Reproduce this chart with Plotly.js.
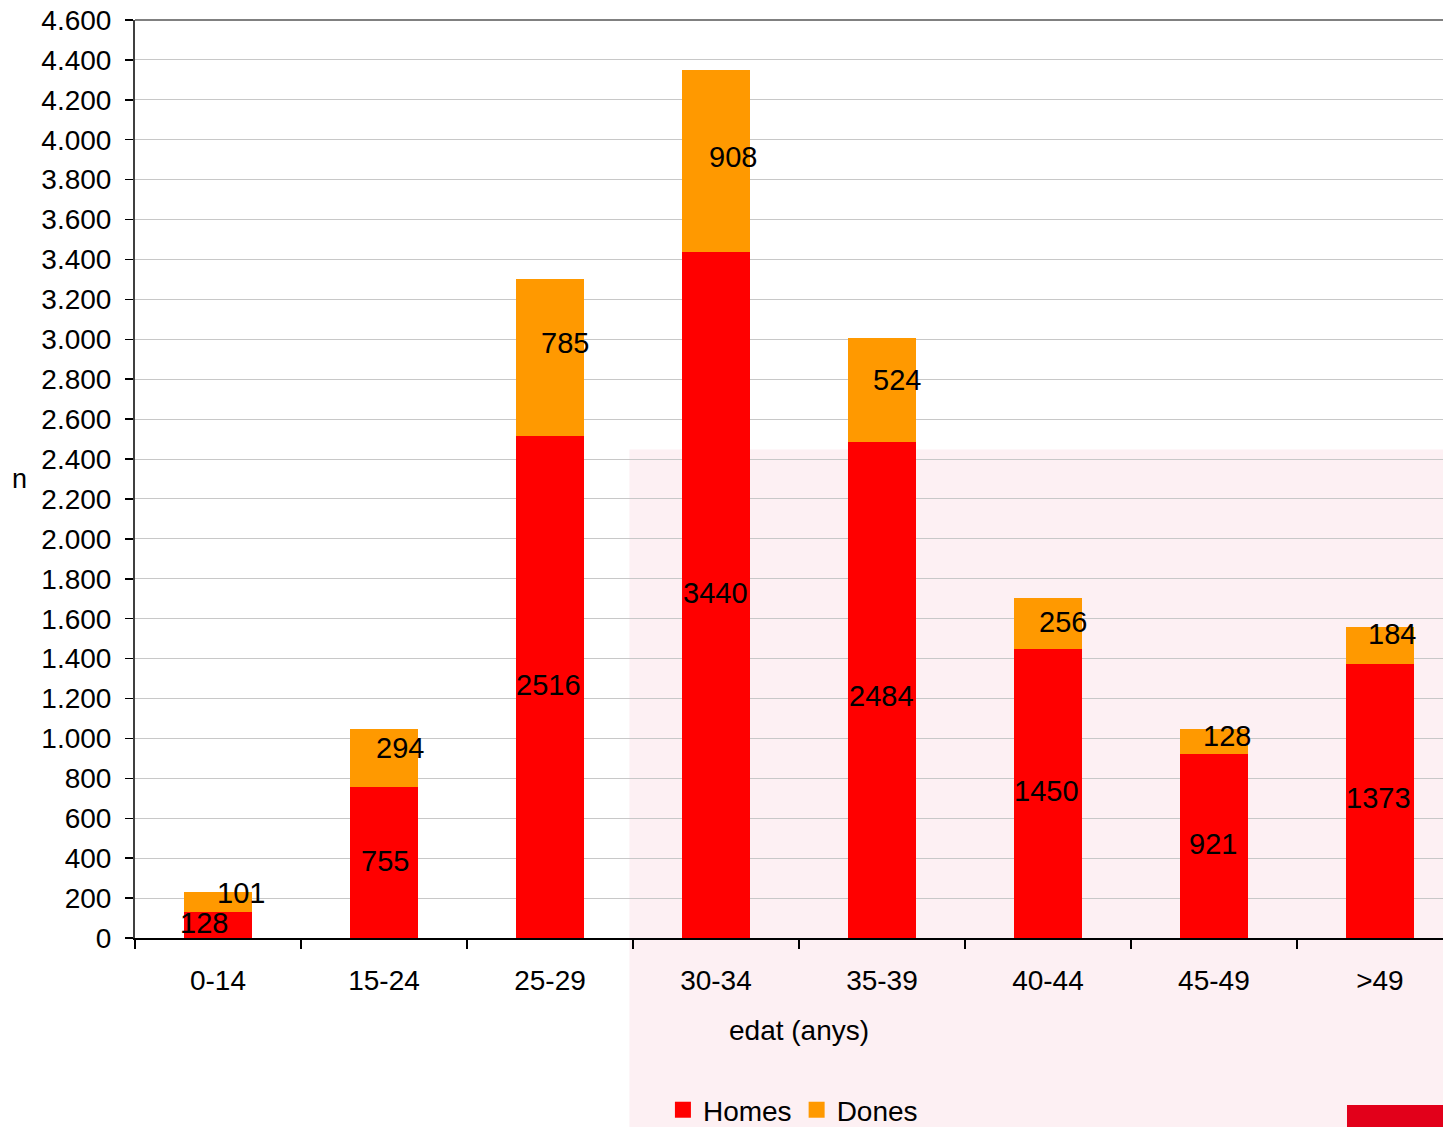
<!DOCTYPE html>
<html>
<head>
<meta charset="utf-8">
<script src="https://cdn.plot.ly/plotly-3.0.1.min.js"></script>
<style>
html,body{margin:0;padding:0;background:#fff;overflow:hidden;}
#chart{width:1443px;height:1127px;}
</style>
</head>
<body>
<div id="chart"></div>
<script>
const categories = ['0-14','15-24','25-29','30-34','35-39','40-44','45-49','>49'];
const homes = [128, 755, 2516, 3440, 2484, 1450, 921, 1373];
const dones = [101, 294, 785, 908, 524, 256, 128, 184];
const seriesNames = ['Homes', 'Dones'];
const yTickVals = [0,200,400,600,800,1000,1200,1400,1600,1800,2000,2200,2400,2600,2800,3000,3200,3400,3600,3800,4000,4200,4400,4600];

const FONT = 'Liberation Sans, Arial, sans-serif';
const RED = '#FF0000', ORANGE = '#FF9900';

const traces = [
  {type:'bar', name:seriesNames[0], x:categories, y:homes, marker:{color:RED}, width:0.41, showlegend:false, hoverinfo:'x+y'},
  {type:'bar', name:seriesNames[1], x:categories, y:dones, marker:{color:ORANGE}, width:0.41, showlegend:false, hoverinfo:'x+y'},
  {type:'scatter', mode:'markers', name:seriesNames[0], x:[categories[0]], y:[null],
    marker:{symbol:'square', size:17, color:RED}, showlegend:true, hoverinfo:'skip'},
  {type:'scatter', mode:'markers', name:seriesNames[1], x:[categories[0]], y:[null],
    marker:{symbol:'square', size:17, color:ORANGE}, showlegend:true, hoverinfo:'skip'}
];

// label nudges (pixels) to mimic the original label placement
const homesXShift = [-14,1,-1,0,0,-1,-1,-1];
const homesYShift = [2,2,2,2,-6,2,2,3];
const donesXShift = [23,16,15,17,15,15,13,12];
const donesYShift = [9,10,15,4,10,1,5,12];
const annotations = [];
categories.forEach((c,i)=>{
  annotations.push({x:c, y:homes[i]/2, text:String(homes[i]), showarrow:false,
    xshift:homesXShift[i], yshift:homesYShift[i], font:{family:FONT,size:29,color:'#000'}});
  annotations.push({x:c, y:homes[i]+dones[i]/2, text:String(dones[i]), showarrow:false,
    xshift:donesXShift[i], yshift:donesYShift[i], font:{family:FONT,size:29,color:'#000'}});
});
annotations.push({xref:'paper', yref:'paper', x:-0.088, y:0.5, text:'n', showarrow:false,
  xanchor:'center', yanchor:'middle', font:{family:FONT,size:27,color:'#000'}});
annotations.push({xref:'paper', yref:'paper', x:0.5076, y:-0.1013, text:'edat (anys)', showarrow:false,
  xanchor:'center', yanchor:'middle', font:{family:FONT,size:28,color:'#000'}});

const layout = {
  width:1443, height:1127,
  margin:{l:135, r:0, t:20, b:189, autoexpand:false},
  paper_bgcolor:'#fff', plot_bgcolor:'rgba(0,0,0,0)',
  barmode:'stack',
  separators:',.',
  font:{family:FONT, size:28, color:'#000'},
  showlegend:true,
  legend:{orientation:'h', x:0.503, xanchor:'center', y:-0.1874, yanchor:'middle',
    font:{family:FONT,size:28,color:'#000'}, traceorder:'normal', itemclick:false, itemdoubleclick:false,
    bgcolor:'rgba(0,0,0,0)', itemwidth:30},
  xaxis:{type:'category', range:[-0.5,7.38], tickson:'boundaries', ticks:'outside', ticklen:9, tickwidth:1.5,
    tickcolor:'#000', showline:true, linecolor:'#000', linewidth:2, showgrid:false, zeroline:false,
    tickfont:{family:FONT,size:28,color:'#000'}, ticklabelstandoff:16, fixedrange:true},
  yaxis:{range:[0,4600], tickvals:yTickVals, tickformat:',d', ticks:'outside', ticklen:8, tickwidth:1.5,
    tickcolor:'#000', showline:true, linecolor:'#404040', linewidth:2, showgrid:true, gridcolor:'#c8c8c8', gridwidth:1,
    zeroline:false, tickfont:{family:FONT,size:28,color:'#000'}, ticklabelstandoff:8, fixedrange:true},
  shapes:[
    {type:'rect', xref:'paper', yref:'paper', x0:0.378, x1:1, y0:-0.206, y1:0.532, layer:'below',
      line:{width:0}, fillcolor:'rgba(235,110,135,0.10)'},
    {type:'rect', xref:'paper', yref:'paper', x0:0.9266, x1:1, y0:-0.206, y1:-0.182, layer:'above',
      line:{width:0}, fillcolor:'#E2001A'},
    {type:'line', xref:'paper', yref:'paper', x0:0, x1:1, y0:1, y1:1, line:{color:'#808080', width:2}}
  ],
  annotations:annotations
};

Plotly.newPlot('chart', traces, layout, {displayModeBar:false, staticPlot:true});
</script>
</body>
</html>
